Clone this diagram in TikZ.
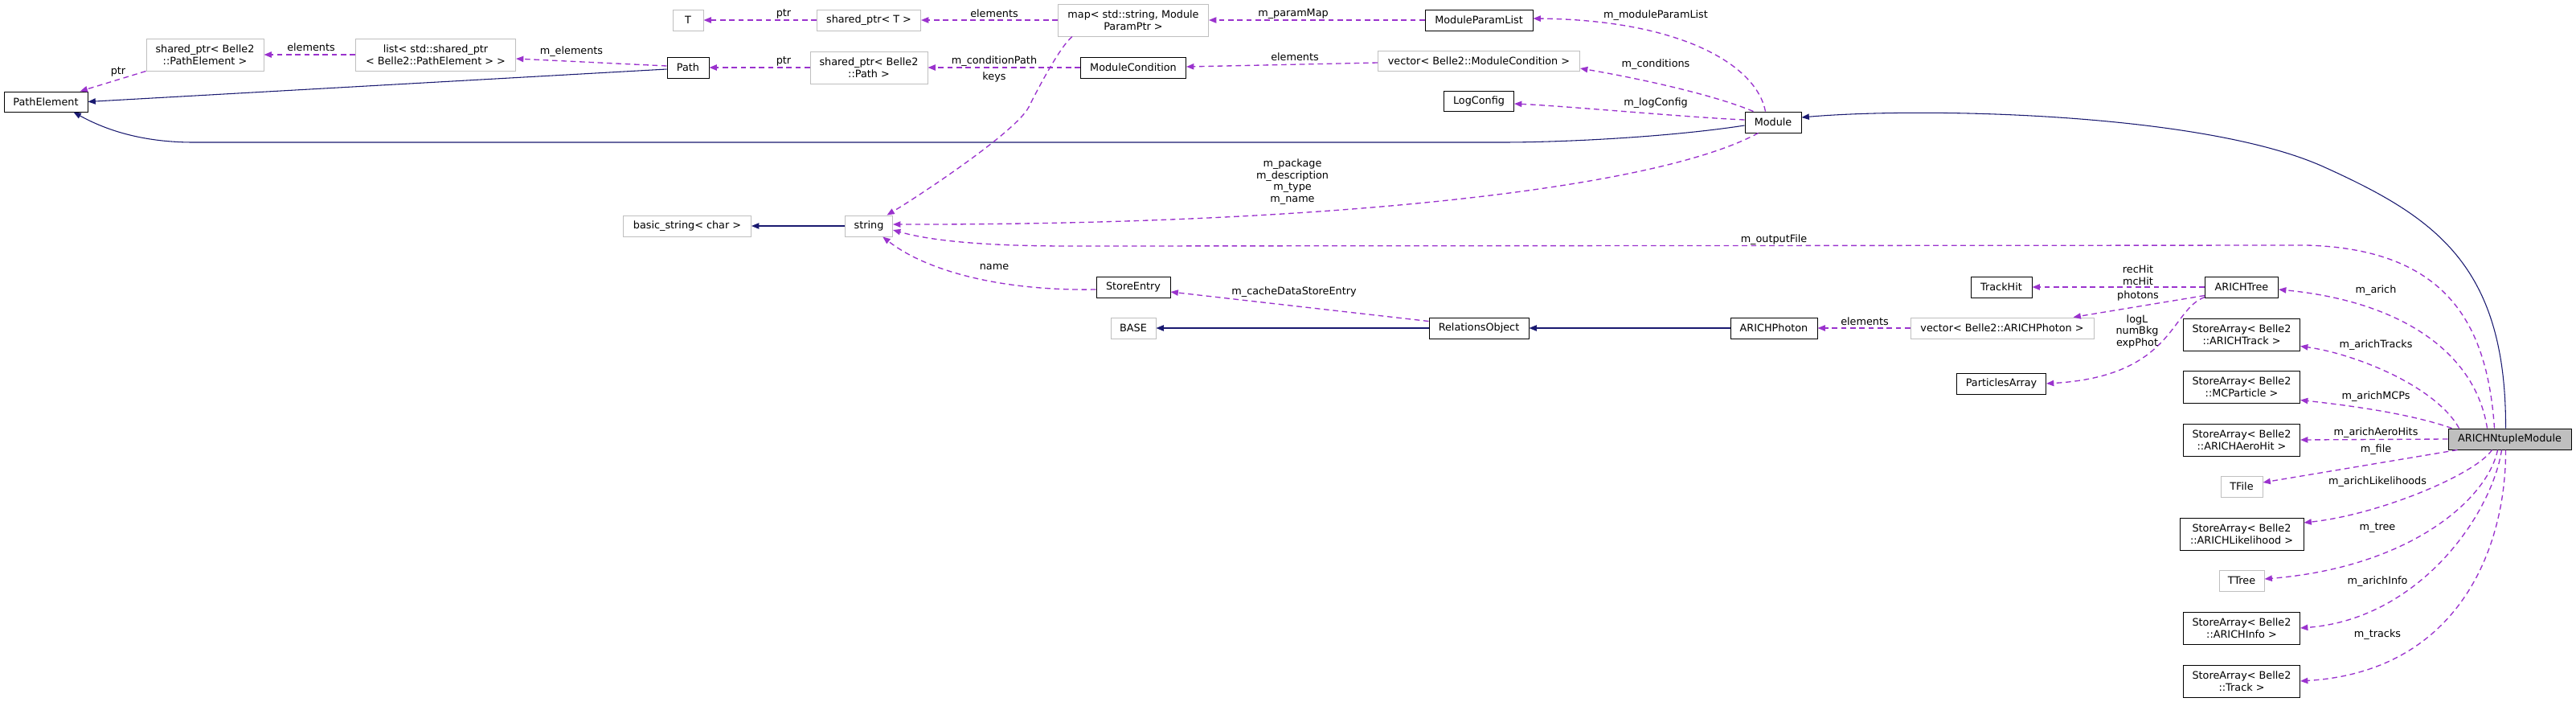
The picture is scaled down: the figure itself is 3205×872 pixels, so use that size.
\documentclass[tikz,border=0pt]{standalone}
\usepackage{fontspec}
\setmainfont{DejaVu Sans}
\usetikzlibrary{arrows.meta,calc}
\definecolor{navyc}{HTML}{191970}
\definecolor{depc}{HTML}{9A32CD}
\definecolor{greyc}{HTML}{BFBFBF}
\begin{document}
\begin{tikzpicture}[x=0.75pt,y=-0.75pt,
  every node/.style={font=\fontsize{9.6}{10.9}\selectfont},
  nb/.style={draw=black, line width=0.75pt, fill=white, align=center, inner sep=1pt},
  ng/.style={draw=greyc, line width=0.75pt, fill=white, align=center, inner sep=1pt},
  sz/.style 2 args={minimum width=#1*0.75pt, minimum height=#2*0.75pt},
  inh/.style={draw=navyc, line width=0.8pt, -{Triangle[length=7pt,width=5.5pt]}},
  dep/.style={draw=depc, line width=1pt, dash pattern=on 5pt off 3.5pt, -{Triangle[length=7pt,width=5.5pt]}},
  lbl/.style={inner sep=0pt, align=center, text=black}
]
\useasboundingbox (0,0) rectangle (3205,872);

% nodes
\node[nb, sz={104}{25}] (PathElement) at (57,126.5) {PathElement};
\node[ng, sz={146}{40}] (spPE) at (255,68) {shared\_ptr< Belle2\\::PathElement >};
\node[ng, sz={199}{40}] (list) at (542,68) {list< std::shared\_ptr\\< Belle2::PathElement > >};
\node[ng, sz={38}{26}] (T) at (856,25) {T};
\node[nb, sz={52}{26}] (Path) at (856,84) {Path};
\node[ng, sz={129}{26}] (spT) at (1081,25) {shared\_ptr< T >};
\node[ng, sz={146}{40}] (spPath) at (1081,84) {shared\_ptr< Belle2\\::Path >};
\node[ng, sz={187}{40}] (map) at (1410,25) {map< std::string, Module\\ParamPtr >};
\node[nb, sz={131}{26}] (ModuleCondition) at (1410,84) {ModuleCondition};
\node[nb, sz={134}{26}] (ModuleParamList) at (1840,25) {ModuleParamList};
\node[ng, sz={251}{25}] (vecMC) at (1840,76) {vector< Belle2::ModuleCondition >};
\node[nb, sz={87}{25}] (LogConfig) at (1840,126) {LogConfig};
\node[nb, sz={70}{26}] (Module) at (2206,152) {Module};
\node[ng, sz={159}{26}] (basicstring) at (855,281) {basic\_string< char >};
\node[ng, sz={59}{26}] (string) at (1081,281) {string};
\node[nb, sz={92}{26}] (StoreEntry) at (1410,357) {StoreEntry};
\node[ng, sz={56}{26}] (BASE) at (1410,408) {BASE};
\node[nb, sz={124}{26}] (RelationsObject) at (1840,408) {RelationsObject};
\node[nb, sz={76}{26}] (TrackHit) at (2490,357) {TrackHit};
\node[nb, sz={91}{26}] (ARICHTree) at (2789,357) {ARICHTree};
\node[nb, sz={108}{26}] (ARICHPhoton) at (2207,408) {ARICHPhoton};
\node[ng, sz={228}{26}] (vecAP) at (2491,408) {vector< Belle2::ARICHPhoton >};
\node[nb, sz={111}{26}] (ParticlesArray) at (2490,477) {ParticlesArray};
\node[nb, sz={145}{40}] (saTrack) at (2789,416) {StoreArray< Belle2\\::ARICHTrack >};
\node[nb, sz={145}{40}] (saMCP) at (2789,481) {StoreArray< Belle2\\::MCParticle >};
\node[nb, sz={145}{40}] (saAero) at (2789,547) {StoreArray< Belle2\\::ARICHAeroHit >};
\node[nb, sz={153}{26}, fill=greyc] (ntuple) at (3122.5,546) {ARICHNtupleModule};
\node[ng, sz={52}{26}] (TFile) at (2789,605) {TFile};
\node[nb, sz={154}{40}] (saLike) at (2789,664) {StoreArray< Belle2\\::ARICHLikelihood >};
\node[ng, sz={56}{26}] (TTree) at (2789,722) {TTree};
\node[nb, sz={145}{40}] (saInfo) at (2789,781) {StoreArray< Belle2\\::ARICHInfo >};
\node[nb, sz={145}{40}] (saTrk) at (2789,847) {StoreArray< Belle2\\::Track >};

% inheritance
\draw[inh] ($(Path.west)+(0,2)$) -- (PathElement.east);
\draw[inh] ($(Module.west)+(0,4)$) .. controls (2080,170) and (1950,177) .. (1868,177) -- (241,177) .. controls (170,177) and (125,158) .. ($(PathElement.south east)+(-18,0)$);
\draw[inh] ($(ntuple.north west)+(72,0)$) .. controls (3118,330) and (3030,270) .. (2890,207) .. controls (2740,140) and (2391,133) .. ($(Module.east)+(0,-6)$);
\draw[inh] (string.west) -- (basicstring.east);
\draw[inh] (RelationsObject.west) -- (BASE.east);
\draw[inh] (ARICHPhoton.west) -- (RelationsObject.east);

% dependencies
\draw[dep] (spPE.south west) -- (PathElement) node[lbl, at={(147,89)}] {ptr};
\draw[dep] (list.west) -- (spPE.east) node[lbl, at={(387,59)}] {elements};
\draw[dep] ($(Path.west)+(0,-2)$) -- ($(list.east)+(0,5)$) node[lbl, at={(711,64)}] {m\_elements};
\draw[dep] (spT.west) -- (T.east) node[lbl, at={(975,17)}] {ptr};
\draw[dep] (spPath.west) -- (Path.east) node[lbl, at={(975,76)}] {ptr};
\draw[dep] (map.west) -- (spT.east) node[lbl, at={(1237,17)}] {elements};
\draw[dep] (ModuleCondition.west) -- (spPath.east) node[lbl, at={(1237,76)}] {m\_conditionPath};
\draw[dep] ($(map.south west)+(18,0)$) .. controls (1320,57) and (1295,103) .. (1280,133) .. controls (1265,163) and (1146,242) .. (string) node[lbl, at={(1237,96)}] {keys};
\draw[dep] (ModuleParamList.west) -- (map.east) node[lbl, at={(1609,17)}] {m\_paramMap};
\draw[dep] ($(vecMC.west)+(0,2)$) -- ($(ModuleCondition.east)+(0,-1)$) node[lbl, at={(1611,71)}] {elements};
\draw[dep] ($(Module.north west)+(26,0)$) .. controls (2185,80) and (2090,25) .. ($(ModuleParamList.east)+(0,-2)$) node[lbl, at={(2060,19)}] {m\_moduleParamList};
\draw[dep] ($(Module.north west)+(11,0)$) .. controls (2130,117) and (2036,97) .. ($(vecMC.south east)+(0,-4)$) node[lbl, at={(2060,80)}] {m\_conditions};
\draw[dep] ($(Module.west)+(0,-3)$) .. controls (2100,146) and (1950,132) .. ($(LogConfig.east)+(0,3)$) node[lbl, at={(2060,128)}] {m\_logConfig};
\draw[dep] ($(Module.south west)+(17,0)$) .. controls (2060,235) and (1650,280) .. ($(string.east)+(0,-2)$) node[lbl, at={(1608,226)}] {m\_package\\m\_description\\m\_type\\m\_name};
\draw[dep] ($(ntuple.north west)+(58,0)$) .. controls (3095,410) and (3050,310) .. (2870,305) -- (1330,306) .. controls (1230,306) and (1160,300) .. ($(string.east)+(0,5)$) node[lbl, at={(2207,298)}] {m\_outputFile};
\draw[dep] ($(StoreEntry.west)+(0,3)$) .. controls (1240,362) and (1150,335) .. (string) node[lbl, at={(1237,332)}] {name};
\draw[dep] ($(RelationsObject.north west)+(0,5)$) -- ($(StoreEntry.east)+(0,6)$) node[lbl, at={(1610,363)}] {m\_cacheDataStoreEntry};
\draw[dep] (ARICHTree.west) -- (TrackHit.east) node[lbl, at={(2660,342)}] {recHit\\mcHit};
\draw[dep] ($(ARICHTree.south west)+(0,-3)$) -- ($(vecAP.north east)+(-26,0)$) node[lbl, at={(2660,368)}] {photons};
\draw[dep] ($(ARICHTree.south west)+(0,-1)$) .. controls (2700,385) and (2705,468) .. (ParticlesArray.east) node[lbl, at={(2659,412)}] {logL\\numBkg\\expPhot};
\draw[dep] (vecAP.west) -- (ARICHPhoton.east) node[lbl, at={(2320,400)}] {elements};
\draw[dep] ($(ntuple.north west)+(49,0)$) .. controls (3080,440) and (2990,375) .. ($(ARICHTree.east)+(0,3)$) node[lbl, at={(2956,361)}] {m\_arich};
\draw[dep] ($(ntuple.north west)+(14,0)$) .. controls (3030,480) and (2930,440) .. ($(saTrack.south east)+(0,-6)$) node[lbl, at={(2956,429)}] {m\_arichTracks};
\draw[dep] ($(ntuple.north west)+(5,0)$) .. controls (3000,515) and (2930,505) .. ($(saMCP.south east)+(0,-4)$) node[lbl, at={(2956,493)}] {m\_arichMCPs};
\draw[dep] (ntuple.west) -- (saAero.east) node[lbl, at={(2956,538)}] {m\_arichAeroHits};
\draw[dep] ($(ntuple.south west)+(12,0)$) -- ($(TFile.east)+(0,-5)$) node[lbl, at={(2956,559)}] {m\_file};
\draw[dep] ($(ntuple.south west)+(55,0)$) .. controls (3080,590) and (2960,640) .. ($(saLike.east)+(0,-14)$) node[lbl, at={(2958,599)}] {m\_arichLikelihoods};
\draw[dep] ($(ntuple.south west)+(62,0)$) .. controls (3095,620) and (3000,705) .. ($(TTree.east)+(0,-2)$) node[lbl, at={(2958,657)}] {m\_tree};
\draw[dep] ($(ntuple.south west)+(67,0)$) .. controls (3100,640) and (3010,770) .. (saInfo.east) node[lbl, at={(2958,723)}] {m\_arichInfo};
\draw[dep] ($(ntuple.south west)+(72,0)$) .. controls (3118,680) and (3060,835) .. (saTrk.east) node[lbl, at={(2958,789)}] {m\_tracks};
\end{tikzpicture}
\end{document}
